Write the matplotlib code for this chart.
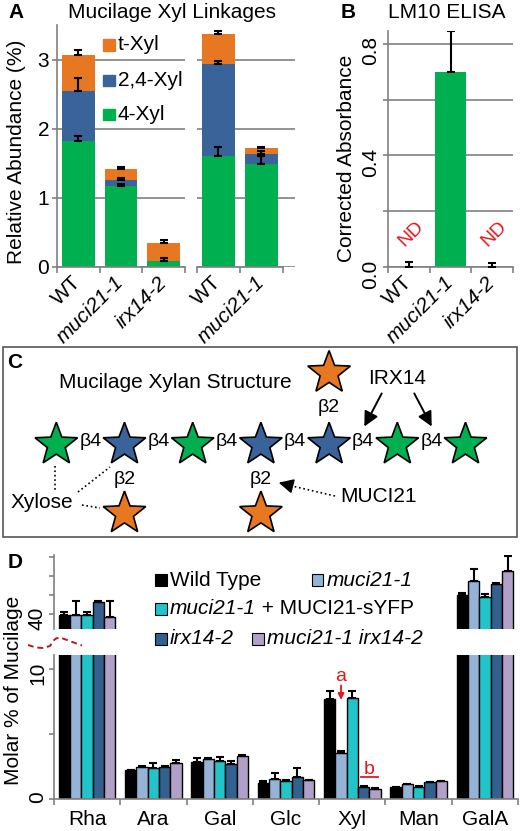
import numpy as np
import matplotlib
matplotlib.use("Agg")
import matplotlib.pyplot as plt
from matplotlib.patches import Rectangle, Polygon

plt.rcParams['font.family'] = ['Liberation Sans', 'DejaVu Sans']

W, H = 520, 831
GRAY = '#808080'
RED = '#E0191E'
FS = 15

# ---- A: xylose linkages, two separate experiments
linkage_names = ['4-Xyl', '2,4-Xyl', 't-Xyl']
linkage_colors = ['#00B050', '#3A6399', '#E87722']
a1_lines = ['WT', 'muci21-1', 'irx14-2']
a1_4xyl = [1.82, 1.17, 0.09]
a1_24xyl = [0.72, 0.09, 0.0]
a1_txyl = [0.52, 0.16, 0.25]
a1_4xyl_err = [0.08, 0.03, 0.04]
a1_24xyl_err = [0.20, 0.03, 0.0]
a1_txyl_err = [0.08, 0.02, 0.05]
a2_lines = ['WT', 'muci21-1']
a2_4xyl = [1.61, 1.49]
a2_24xyl = [1.33, 0.15]
a2_txyl = [0.43, 0.08]
a2_4xyl_err = [0.12, 0.12]
a2_24xyl_err = [0.04, 0.04]
a2_txyl_err = [0.05, 0.01]

# ---- B: LM10 ELISA
b_lines = ['WT', 'muci21-1', 'irx14-2']
b_absorbance = [0.0, 0.70, 0.0]
b_err = [0.017, 0.145, 0.015]
b_nd = [True, False, True]

# ---- C: xylan backbone (colour per residue) and branch positions
chain_colors = ['#00B050', '#3A6399', '#00B050', '#3A6399', '#3A6399', '#00B050', '#00B050']
branch_up = [4]
branch_down = [1, 3]

# ---- D: monosaccharide composition
sugars = ['Rha', 'Ara', 'Gal', 'Glc', 'Xyl', 'Man', 'GalA']
genotypes = ['Wild Type', 'muci21-1', 'muci21-1 + MUCI21-sYFP', 'irx14-2', 'muci21-1 irx14-2']
geno_colors = ['#000000', '#95B3D7', '#22C4C9', '#33608F', '#B1A0C7']
wt_molar = [39.8, 2.20, 2.86, 1.25, 7.70, 0.90, 44.9]
wt_err = [0.6, 0.05, 0.29, 0.12, 0.6, 0.05, 0.7]
muci_molar = [39.8, 2.46, 3.07, 1.53, 3.53, 1.15, 48.6]
muci_err = [3.6, 0.10, 0.05, 0.47, 0.13, 0.03, 3.3]
comp_molar = [39.6, 2.38, 2.89, 1.36, 7.80, 0.90, 44.5]
comp_err = [0.9, 0.38, 0.31, 0.07, 0.5, 0.07, 0.9]
irx_molar = [43.2, 2.46, 2.71, 1.66, 0.92, 1.28, 48.0]
irx_err = [0.3, 0.04, 0.21, 0.72, 0.05, 0.05, 0.2]
dbl_molar = [39.1, 2.76, 3.32, 1.43, 0.77, 1.36, 51.3]
dbl_err = [4.3, 0.26, 0.06, 0.05, 0.05, 0.02, 4.0]


fig = plt.figure(figsize=(W / 100, H / 100), dpi=100)


def px_axes(x0, y0, x1, y1):
    return fig.add_axes([x0 / W, 1 - y1 / H, (x1 - x0) / W, (y1 - y0) / H])


def ftext(x, y, s, **kw):
    return fig.text(x / W, 1 - y / H, s, **kw)


def gray_axes(ax):
    for s in ['top', 'right']:
        ax.spines[s].set_visible(False)
    for s in ['left', 'bottom']:
        ax.spines[s].set_color(GRAY)
        ax.spines[s].set_linewidth(1.2)
    ax.tick_params(color=GRAY, width=1.2, labelsize=FS, labelcolor='black')


def cat_xaxis(ax, labels, rot=45, pad=9):
    n = len(labels)
    ax.set_xticks(np.arange(n))
    ax.set_xticklabels(labels, rotation=rot, ha='right', va='center', rotation_mode='anchor')
    for lab in ax.get_xticklabels():
        if lab.get_text() != 'WT':
            lab.set_style('italic')
    ax.set_xticks(np.arange(-0.5, n), minor=True)
    ax.tick_params(axis='x', which='major', length=0, pad=pad)
    ax.tick_params(axis='x', which='minor', length=4, color=GRAY, width=1.2)


def err_up(ax, x, top, err):
    ax.errorbar(x, top, yerr=[np.zeros(len(x)), err], fmt='none', ecolor='black',
                elinewidth=1.5, capsize=2.8, capthick=1.5, zorder=3)


def draw_stack(ax, parts, errs):
    x = np.arange(len(parts[0]))
    bottom = np.zeros(len(x))
    for vals, err, col in zip(parts, errs, linkage_colors):
        vals = np.asarray(vals)
        ax.bar(x, vals, 0.77, bottom=bottom, color=col, zorder=2)
        top = bottom + vals
        err_up(ax, x, top, err)
        bottom = top


# ================= A =================
ax_a1 = px_axes(57, 25, 185, 267)
draw_stack(ax_a1, [a1_4xyl, a1_24xyl, a1_txyl], [a1_4xyl_err, a1_24xyl_err, a1_txyl_err])
gray_axes(ax_a1)
ax_a1.set_xlim(-0.5, 2.5)
ax_a1.set_ylim(0, 3.5)
ax_a1.set_yticks([0, 1, 2, 3])
ax_a1.tick_params(axis='y', length=3.6, pad=2)
ax_a1.grid(axis='y', color=GRAY, lw=1.2)
ax_a1.set_axisbelow(True)
cat_xaxis(ax_a1, a1_lines)

ax_a2 = px_axes(197, 25, 295, 267)
draw_stack(ax_a2, [a2_4xyl, a2_24xyl, a2_txyl], [a2_4xyl_err, a2_24xyl_err, a2_txyl_err])
gray_axes(ax_a2)
ax_a2.spines['left'].set_visible(False)
ax_a2.set_xlim(-0.5, 1.78)
ax_a2.spines['bottom'].set_bounds(-0.5, 1.5)
ax_a2.set_ylim(0, 3.5)
ax_a2.set_yticks([0, 1, 2, 3])
ax_a2.tick_params(axis='y', length=0, labelleft=False)
ax_a2.grid(axis='y', color=GRAY, lw=1.2)
ax_a2.set_axisbelow(True)
cat_xaxis(ax_a2, a2_lines)

ftext(8, 13, 'A', fontsize=FS, fontweight='bold', va='center')
ftext(172, 12, 'Mucilage Xyl Linkages', fontsize=FS, ha='center', va='center')
ftext(17, 152, 'Relative Abundance (%)', fontsize=FS, rotation=90, ha='center', va='center')

# ================= B =================
ax_b = px_axes(388, 31, 513, 267)
xb = np.arange(len(b_lines))
ax_b.bar(xb, b_absorbance, 0.75, color='#00B050', zorder=2)
err_up(ax_b, xb, b_absorbance, b_err)
gray_axes(ax_b)
ax_b.set_xlim(-0.5, 2.5)
ax_b.set_ylim(0, 0.846)
ax_b.set_yticks([0, 0.2, 0.4, 0.6, 0.8])
ax_b.set_yticklabels(['0.0', '', '0.4', '', '0.8'])
ax_b.tick_params(axis='y', labelrotation=90, length=3.6, pad=2)
ax_b.grid(axis='y', color=GRAY, lw=1.2)
ax_b.set_axisbelow(True)
cat_xaxis(ax_b, b_lines)
for xi, nd in zip(xb, b_nd):
    if nd:
        ax_b.text(xi + 0.05, 0.12, 'ND', color=RED, fontsize=FS - 1, rotation=45, ha='center', va='center')

ftext(341, 13, 'B', fontsize=FS, fontweight='bold', va='center')
ftext(447, 12, 'LM10 ELISA', fontsize=FS, ha='center', va='center')
ftext(346, 158, 'Corrected Absorbance', fontsize=FS, rotation=90, ha='center', va='center')

# ================= D =================
ax_up = px_axes(54, 555, 518, 629)
ax_lo = px_axes(54, 655, 518, 799)
d_series = [wt_molar, muci_molar, comp_molar, irx_molar, dbl_molar]
d_errs = [wt_err, muci_err, comp_err, irx_err, dbl_err]
d_width = 0.171
xd = np.arange(len(sugars))
for j, (vals, errs, col) in enumerate(zip(d_series, d_errs, geno_colors)):
    xs = xd + (j - 2) * d_width
    for ax in (ax_up, ax_lo):
        ax.bar(xs, vals, d_width, color=col, edgecolor='black', linewidth=1.0, zorder=2)
        err_up(ax, xs, vals, errs)

for ax in (ax_up, ax_lo):
    gray_axes(ax)
    ax.set_xlim(-0.5, 6.5)
    ax.tick_params(axis='y', labelrotation=90, length=3.6, pad=1.5)
ax_up.spines['bottom'].set_visible(False)
ax_up.set_xticks([])
ax_up.set_ylim(36, 55.6)
ax_up.set_yticks([40, 45, 50, 55])
ax_up.set_yticklabels(['40', '', '', ''])
ax_lo.set_ylim(0, 11.07)
ax_lo.set_yticks([0, 5, 10])
ax_lo.set_yticklabels(['0', '', '10'])
ax_lo.set_xticks(xd)
ax_lo.set_xticklabels(sugars)
ax_lo.set_xticks(np.arange(-0.5, len(sugars)), minor=True)
ax_lo.tick_params(axis='x', which='major', length=0, pad=8)
ax_lo.tick_params(axis='x', which='minor', length=4, color=GRAY, width=1.2)

# significance marks on Xyl
ax_lo.text(3.83, 9.4, 'a', color=RED, fontsize=FS - 1, ha='center', va='center')
ax_lo.annotate('', xy=(3.83, 7.4), xytext=(3.83, 8.95),
               arrowprops=dict(arrowstyle='-|>', color=RED, lw=1.3, mutation_scale=9))
ax_lo.text(4.256, 2.25, 'b', color=RED, fontsize=FS - 1, ha='center', va='center')
ax_lo.plot([4.126, 4.39], [1.7, 1.7], color=RED, lw=1.3)

ftext(8, 562, 'D', fontsize=FS, fontweight='bold', va='center')
ftext(14, 690, 'Molar % of Mucilage', fontsize=FS, rotation=90, ha='center', va='center')

# ================= overlay (legends, diagram C, axis break) =================
ov = fig.add_axes([0, 0, 1, 1])
ov.set_xlim(0, W)
ov.set_ylim(H, 0)
ov.axis('off')

# legend A
for (yy, name, col) in zip([45, 80.5, 114.7], linkage_names[::-1], linkage_colors[::-1]):
    ov.add_patch(Rectangle((103, yy - 5.8), 11.6, 11.6, color=col))
    ov.text(118, yy, name, fontsize=FS, va='center')

# legend D
d_leg_pos = [(155, 580), (311.7, 580), (155, 609), (155, 639), (252, 639)]
for (lx, ly), name, col in zip(d_leg_pos, genotypes, geno_colors):
    ov.add_patch(Rectangle((lx, ly - 5.8), 11.6, 11.6, fc=col, ec='black', lw=0.8))
    if name == 'muci21-1 + MUCI21-sYFP':
        t = ov.text(lx + 15, ly, 'muci21-1', fontsize=FS, va='center', style='italic')
        ov.annotate(' + MUCI21-sYFP', xy=(1, 0), xycoords=t, fontsize=FS, va='bottom')
    elif name == 'Wild Type':
        ov.text(lx + 15, ly, name, fontsize=FS, va='center')
    else:
        ov.text(lx + 15, ly, name, fontsize=FS, va='center', style='italic')

# broken axis squiggle
sq_x = [28, 36, 43, 50, 53, 56, 60, 67, 75, 82]
sq_y = [645, 647.5, 648, 646, 641, 638.5, 637.5, 640, 643, 645.5]
ov.plot(sq_x, sq_y, color='#C0141C', lw=1.4, ls=(0, (3, 2)))


def star(cx, cy, r, col):
    k = np.arange(10)
    ang = np.deg2rad(90 + k * 36)
    rad = np.where(k % 2 == 0, r, r * 0.42)
    pts = np.column_stack([cx + rad * np.cos(ang), cy - rad * np.sin(ang)])
    ov.add_patch(Polygon(pts, closed=True, fc=col, ec='black', lw=1.2, joinstyle='miter'))


# panel C
ov.add_patch(Rectangle((3, 347), 514, 190, fill=False, ec='#555555', lw=1.2))
ov.text(7, 362, 'C', fontsize=FS, fontweight='bold', va='center')
ov.text(175, 382, 'Mucilage Xylan Structure', fontsize=FS, ha='center', va='center')
x0c, dxc, yc, rc = 56.3, 68.2, 444.7, 22.4
orange = linkage_colors[2]
for i, col in enumerate(chain_colors):
    star(x0c + i * dxc, yc, rc, col)
for i in range(len(chain_colors) - 1):
    ov.text(x0c + (i + 0.5) * dxc, 441, 'β4', fontsize=FS - 1, ha='center', va='center')
for i in branch_up:
    star(x0c + i * dxc, 373, rc, orange)
    ov.text(x0c + i * dxc, 408, 'β2', fontsize=FS - 1, ha='center', va='center')
for i in branch_down:
    star(x0c + i * dxc, 513.5, rc, orange)
    ov.text(x0c + i * dxc, 479, 'β2', fontsize=FS - 1, ha='center', va='center')

ov.text(397, 378, 'IRX14', fontsize=FS, ha='center', va='center')
ov.annotate('', xy=(363, 429), xytext=(383, 391),
            arrowprops=dict(arrowstyle='-|>', color='black', lw=1.4, mutation_scale=22))
ov.annotate('', xy=(433, 429), xytext=(413, 391),
            arrowprops=dict(arrowstyle='-|>', color='black', lw=1.4, mutation_scale=22))

ov.text(379, 497, 'MUCI21', fontsize=FS, ha='center', va='center')
ov.plot([335, 292], [496, 486], color='black', lw=1.2, ls=':')
ov.annotate('', xy=(276, 482), xytext=(294, 486.5),
            arrowprops=dict(arrowstyle='-|>', color='black', lw=1.2, mutation_scale=22))

ov.text(42, 502, 'Xylose', fontsize=FS, ha='center', va='center')
ov.plot([55, 55], [466, 490], color='black', lw=1.2, ls=':')
ov.plot([78, 110], [492, 467], color='black', lw=1.2, ls=':')
ov.plot([82, 100], [505, 508], color='black', lw=1.2, ls=':')

fig.savefig('out.png', dpi=100, facecolor='white')
